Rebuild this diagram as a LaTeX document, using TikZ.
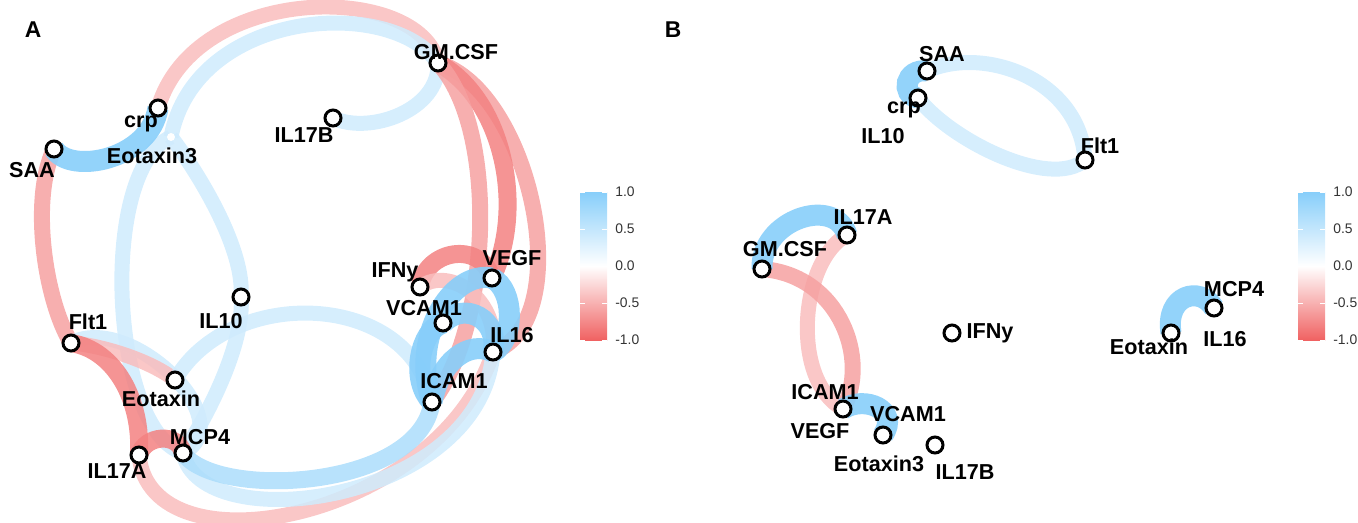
\documentclass[tikz,border=0pt]{standalone}
\usepackage{fontspec}
\setmainfont{Liberation Sans}
\usepackage{tikz}

\definecolor{posfull}{RGB}{135,206,250}
\definecolor{negfull}{RGB}{240,98,98}

\pgfdeclarelayer{edges}
\pgfsetlayers{edges,main}

\tikzset{
    gene/.style={circle, draw=black, line width=0.06cm, fill=white, minimum size=0.32cm, inner sep=0pt},
    hidden/.style={circle, fill=white, minimum size=0.16cm, inner sep=0pt},
    lbl/.style={font=\fontsize{12.3}{14}\selectfont\bfseries, inner sep=0pt},
    panel/.style={font=\fontsize{13}{15}\selectfont\bfseries, inner sep=0pt},
    scalelbl/.style={font=\fontsize{7.9}{9}\selectfont, text=black!80, anchor=west, inner sep=0pt},
    strongpos/.style={line width=0.42cm, draw=posfull, draw opacity=0.9},
    midpos/.style={line width=0.34cm, draw=posfull!70!white, draw opacity=0.85},
    weakpos/.style={line width=0.3cm, draw=posfull!40!white, draw opacity=0.85},
    strongneg/.style={line width=0.36cm, draw=negfull!80!white, draw opacity=0.85},
    midneg/.style={line width=0.32cm, draw=negfull!60!white, draw opacity=0.85},
    weakneg/.style={line width=0.3cm, draw=negfull!42!white, draw opacity=0.85}
}

\begin{document}
\begin{tikzpicture}[x=0.02cm, y=-0.02cm]
    \useasboundingbox (0,0) rectangle (1358,522);

    % panel A : nodes
    \node[gene] (A-SAA) at (54,149) {};
    \node[gene] (A-crp) at (158,108) {};
    \node[hidden] (A-Eotaxin3) at (171,137) {};
    \node[gene] (A-GMCSF) at (438,63) {};
    \node[gene] (A-IL17B) at (333,118) {};
    \node[gene] (A-IL10) at (241,297) {};
    \node[gene] (A-Flt1) at (71,343) {};
    \node[gene] (A-Eotaxin) at (175,380) {};
    \node[gene] (A-MCP4) at (183,453) {};
    \node[gene] (A-IL17A) at (139,455) {};
    \node[gene] (A-IFNy) at (420,287) {};
    \node[gene] (A-VEGF) at (492,278) {};
    \node[gene] (A-VCAM1) at (443,323) {};
    \node[gene] (A-IL16) at (493,352) {};
    \node[gene] (A-ICAM1) at (432,402) {};

    % panel B : nodes
    \node[gene] (B-SAA) at (927,71) {};
    \node[gene] (B-crp) at (918,98) {};
    \node[gene] (B-Flt1) at (1085,160) {};
    \node[gene] (B-IL17A) at (847,235) {};
    \node[gene] (B-GMCSF) at (762,269) {};
    \node[gene] (B-ICAM1) at (843,409) {};
    \node[gene] (B-Eotaxin3) at (883,435) {};
    \node[gene] (B-IL17B) at (935,445) {};
    \node[gene] (B-IFNy) at (952,333) {};
    \node[gene] (B-MCP4) at (1214,308) {};
    \node[gene] (B-Eotaxin) at (1171,333) {};

    \begin{pgfonlayer}{edges}
        % panel A
        \draw[weakneg] (A-crp.center) .. controls (195,-18) and (420,-18) .. (A-GMCSF.center);
        \draw[weakpos] (A-Eotaxin3.center) .. controls (195,10) and (390,-5) .. (A-GMCSF.center);
        \draw[weakpos] (A-IL17B.center) .. controls (370,135) and (440,110) .. (A-GMCSF.center);
        \draw[midneg] (A-GMCSF.center) .. controls (530,90) and (580,320) .. (A-IL16.center);
        \draw[strongneg] (A-GMCSF.center) .. controls (505,100) and (525,210) .. (A-VEGF.center);
        \draw[midneg] (A-GMCSF.center) .. controls (500,130) and (490,330) .. (A-ICAM1.center);
        \draw[midneg] (A-SAA.center) .. controls (30,200) and (45,300) .. (A-Flt1.center);
        \draw[weakpos] (A-Eotaxin3.center) .. controls (98,170) and (110,430) .. (A-MCP4.center);
        \draw[weakpos] (A-Eotaxin3.center) .. controls (200,175) and (245,250) .. (A-IL10.center);
        \draw[weakpos] (A-IL10.center) .. controls (245,345) and (205,420) .. (A-MCP4.center);
        \draw[strongpos] (A-SAA.center) .. controls (70,175) and (150,160) .. (A-crp.center);
        \draw[weakpos] (A-Flt1.center) .. controls (131,312) and (243,422) .. (A-MCP4.center);
        \draw[weakneg] (A-Flt1.center) .. controls (100,345) and (150,360) .. (A-Eotaxin.center);
        \draw[strongneg] (A-Flt1.center) .. controls (115,350) and (142,400) .. (A-IL17A.center);
        \draw[strongneg] (A-IL17A.center) .. controls (145,435) and (178,432) .. (A-MCP4.center);
        \draw[weakneg] (A-IL17A.center) .. controls (150,576) and (439,520) .. (A-IL16.center);
        \draw[weakpos] (A-MCP4.center) .. controls (200,540) and (481,504) .. (A-IL16.center);
        \draw[midpos] (A-MCP4.center) .. controls (215,500) and (420,490) .. (A-ICAM1.center);
        \draw[weakpos] (A-Eotaxin.center) .. controls (230,285) and (410,290) .. (A-ICAM1.center);
        \draw[strongneg] (A-IFNy.center) .. controls (425,250) and (480,240) .. (A-VEGF.center);
        \draw[weakneg] (A-IFNy.center) .. controls (450,265) and (500,300) .. (A-IL16.center);
        \draw[strongpos] (A-ICAM1.center) .. controls (410,380) and (420,330) .. (A-VCAM1.center);
        \draw[strongpos] (A-ICAM1.center) .. controls (410,340) and (450,270) .. (A-VEGF.center);
        \draw[strongpos] (A-ICAM1.center) .. controls (440,360) and (470,340) .. (A-IL16.center);
        \draw[strongpos] (A-VCAM1.center) .. controls (465,300) and (500,320) .. (A-IL16.center);
        \draw[strongpos] (A-VEGF.center) .. controls (515,290) and (515,340) .. (A-IL16.center);

        % panel B
        \draw[weakpos] (B-SAA.center) .. controls (985,45) and (1080,80) .. (B-Flt1.center);
        \draw[weakpos] (B-crp.center) .. controls (950,140) and (1050,190) .. (B-Flt1.center);
        \draw[strongpos] (B-SAA.center) .. controls (905,68) and (900,95) .. (B-crp.center);
        \draw[weakneg] (B-IL17A.center) .. controls (800,260) and (790,380) .. (B-ICAM1.center);
        \draw[midneg] (B-GMCSF.center) .. controls (840,275) and (870,360) .. (B-ICAM1.center);
        \draw[strongpos] (B-GMCSF.center) .. controls (760,220) and (835,195) .. (B-IL17A.center);
        \draw[strongpos] (B-ICAM1.center) .. controls (865,395) and (900,410) .. (B-Eotaxin3.center);
        \draw[strongpos] (B-Eotaxin.center) .. controls (1165,295) and (1200,285) .. (B-MCP4.center);
    \end{pgfonlayer}

    % labels
    \node[panel] (A-tag) at (33,30) {A};
    \node[panel] (B-tag) at (673,30) {B};

    \node[lbl] (A-SAA-l) at (32,170) {SAA};
    \node[lbl] (A-crp-l) at (141,124) {crp};
    \node[lbl] (A-Eotaxin3-l) at (152,156) {Eotaxin3};
    \node[lbl] (A-IL17B-l) at (304,135) {IL17B};
    \node[lbl] (A-GMCSF-l) at (456,52) {GM.CSF};
    \node[lbl] (A-IL10-l) at (221,321) {IL10};
    \node[lbl] (A-Flt1-l) at (88,322) {Flt1};
    \node[lbl] (A-Eotaxin-l) at (161,399) {Eotaxin};
    \node[lbl] (A-MCP4-l) at (200,437) {MCP4};
    \node[lbl] (A-IL17A-l) at (117,471) {IL17A};
    \node[lbl] (A-IFNy-l) at (395,272) {IFNy};
    \node[lbl] (A-VEGF-l) at (512,258) {VEGF};
    \node[lbl] (A-VCAM1-l) at (424,308) {VCAM1};
    \node[lbl] (A-IL16-l) at (512,335) {IL16};
    \node[lbl] (A-ICAM1-l) at (454,381) {ICAM1};

    \node[lbl] (B-SAA-l) at (942,54) {SAA};
    \node[lbl] (B-crp-l) at (904,110) {crp};
    \node[lbl] (B-IL10-l) at (883,136) {IL10};
    \node[lbl] (B-Flt1-l) at (1100,146) {Flt1};
    \node[lbl] (B-IL17A-l) at (863,217) {IL17A};
    \node[lbl] (B-GMCSF-l) at (785,249) {GM.CSF};
    \node[lbl] (B-ICAM1-l) at (825,392) {ICAM1};
    \node[lbl] (B-VEGF-l) at (820,431) {VEGF};
    \node[lbl] (B-VCAM1-l) at (908,414) {VCAM1};
    \node[lbl] (B-Eotaxin3-l) at (879,464) {Eotaxin3};
    \node[lbl] (B-IL17B-l) at (965,472) {IL17B};
    \node[lbl] (B-IFNy-l) at (990,333) {IFNy};
    \node[lbl] (B-MCP4-l) at (1234,289) {MCP4};
    \node[lbl] (B-Eotaxin-l) at (1149,347) {Eotaxin};
    \node[lbl] (B-IL16-l) at (1225,339) {IL16};

    % colour bars
    \foreach \p/\x in {A/580, B/1298} {
        \shade[top color=posfull, bottom color=negfull, middle color=white] (\x,192) rectangle (\x+27,340);
        \foreach \y in {192,229,266,303,340} {
            \draw[white, line width=0.5pt] (\x,\y) -- (\x+5,\y) (\x+22,\y) -- (\x+27,\y);
        }
        \foreach \v/\y in {1.0/192, 0.5/229, 0.0/266, -0.5/303, -1.0/340} {
            \node[scalelbl] (\p-s\y) at (\x+35,\y) {\v};
        }
    }
\end{tikzpicture}
\end{document}
